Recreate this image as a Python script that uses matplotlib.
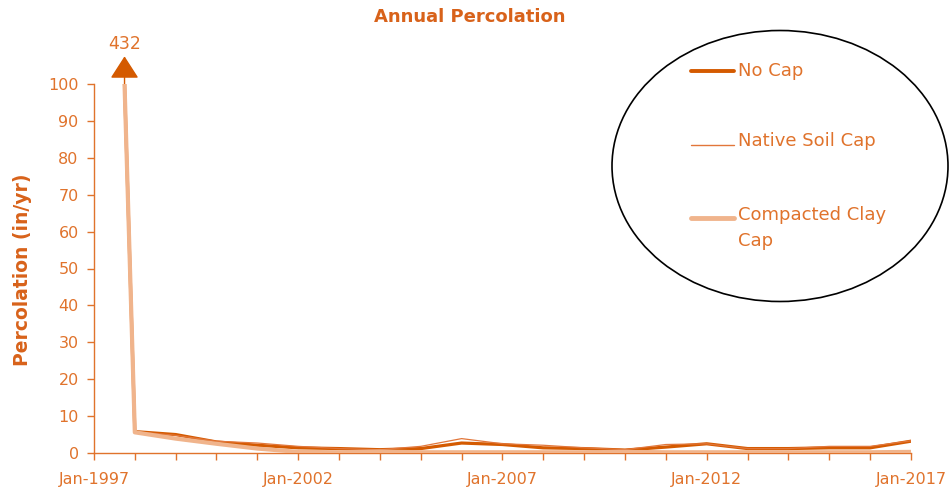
import datetime as dt
import matplotlib
matplotlib.use("Agg")
import matplotlib.pyplot as plt
import matplotlib.dates as mdates
from matplotlib.lines import Line2D
from matplotlib.patches import Ellipse

# annual percolation per cap type (in/yr); first point is off-scale (432)
years = [dt.date(1997, 10, 1)] + [dt.date(y, 1, 1) for y in range(1998, 2018)]
no_cap = [432, 5.8, 5.0, 3.0, 2.1, 1.4, 1.2, 0.9, 1.2, 2.7, 2.3, 1.4,
          1.2, 0.8, 1.6, 2.5, 1.2, 1.2, 1.4, 1.4, 3.2]
native_soil = [432, 5.8, 4.8, 3.2, 2.7, 1.8, 1.2, 0.9, 1.8, 3.9, 2.5, 2.1,
               1.4, 0.9, 2.3, 2.5, 1.2, 1.2, 1.8, 1.8, 3.3]
compacted_clay = [432, 5.6, 3.9, 2.5, 1.2, 0.3, 0.2, 0.4, 0.2, 0.2, 0.2, 0.2,
                  0.2, 0.3, 0.2, 0.2, 0.2, 0.2, 0.2, 0.2, 0.3]
tick_years = [1997, 2002, 2007, 2012, 2017]

YMAX = 100

c_dark = "#d45a00"
c_mid = "#e2763a"
c_light = "#f0b48c"
c_text = "#e0732c"
c_title = "#d8621a"

W, H = 949, 490
fig = plt.figure(figsize=(W / 100, H / 100), dpi=100)
ax = fig.add_axes([94 / W, 1 - 453 / H, (911 - 94) / W, (453 - 84) / H])


def capped(vals):
    # off-scale values are drawn at the top of the axis
    return [min(v, YMAX) for v in vals]


ax.plot(years, capped(no_cap), color=c_dark, lw=2.3, zorder=3)
ax.plot(years, capped(native_soil), color=c_mid, lw=0.9, zorder=4)
ax.plot(years, capped(compacted_clay), color=c_light, lw=3.0, zorder=5)

ax.set_ylim(0, YMAX)
ax.set_xlim(dt.date(1997, 1, 1), dt.date(2017, 1, 1))
ax.set_yticks(range(0, YMAX + 1, 10))

ax.set_xticks([mdates.date2num(dt.date(y, 1, 1)) for y in tick_years])
ax.set_xticklabels(["Jan-%d" % y for y in tick_years])
ax.xaxis.set_minor_locator(mdates.YearLocator(1))

for s in ["top", "right"]:
    ax.spines[s].set_visible(False)
for s in ["left", "bottom"]:
    ax.spines[s].set_color(c_text)
    ax.spines[s].set_linewidth(1.0)
ax.tick_params(which="both", color=c_text, length=5, width=1, labelcolor=c_text,
               labelsize=11.5)
ax.tick_params(axis="x", pad=9)
ax.tick_params(axis="y", pad=6)

# off-scale marker for the first year
x0 = mdates.date2num(years[0])
ax.annotate("", xy=(x0, 107.5), xytext=(x0, 98.5), annotation_clip=False,
            arrowprops=dict(arrowstyle="-|>,head_length=0.7,head_width=0.45",
                            mutation_scale=20, color=c_dark, lw=1, shrinkA=0, shrinkB=0))
ax.text(x0, 110.8, "%d" % max(compacted_clay), ha="center", va="center",
        color=c_text, fontsize=12.5, clip_on=False)

fig.text(470 / W, 1 - 17 / H, "Annual Percolation", ha="center", va="center",
         color=c_title, fontsize=13, fontweight="bold")
fig.text(23 / W, 1 - 270 / H, "Percolation (in/yr)", ha="center", va="center",
         rotation=90, color=c_title, fontsize=13.5, fontweight="bold")

# legend inside an ellipse
fig.add_artist(Ellipse((780 / W, 1 - 166 / H), 336 / W, 271 / H, transform=fig.transFigure,
                       fill=False, edgecolor="black", lw=1.2))
entries = [("No Cap", c_dark, 2.8, 71, 71),
           ("Native Soil Cap", c_mid, 1.0, 145, 141),
           ("Compacted Clay\nCap", c_light, 3.5, 218, 228)]
for label, col, lw, yl, yt in entries:
    fig.add_artist(Line2D([691 / W, 734 / W], [1 - yl / H, 1 - yl / H],
                          transform=fig.transFigure, color=col, lw=lw,
                          solid_capstyle="round"))
    fig.text(738 / W, 1 - yt / H, label, ha="left", va="center", color=c_text,
             fontsize=13, linespacing=1.55)

fig.savefig("out.png", dpi=100)
